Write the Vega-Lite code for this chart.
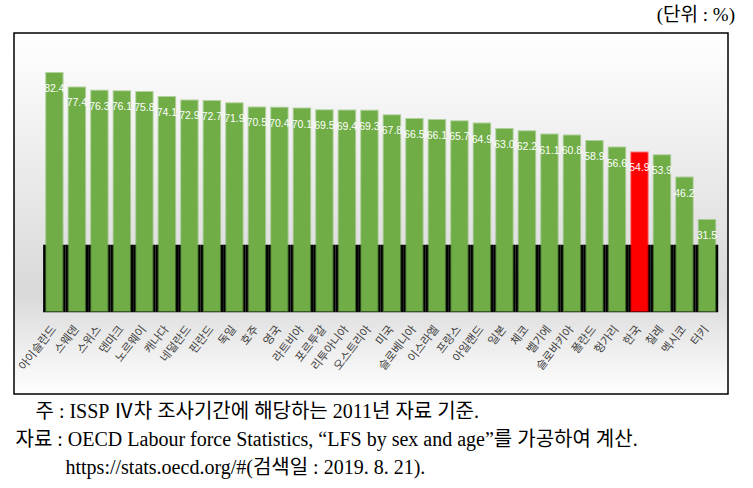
{
  "$schema": "https://vega.github.io/schema/vega-lite/v6.json",
  "width": 714,
  "height": 361,
  "autosize": "none",
  "padding": {"left": 14, "top": 33, "right": 25, "bottom": 94},
  "background": "#ffffff",
  "config": {
    "view": {
      "stroke": "#000000",
      "strokeWidth": 1.5,
      "fill": {
        "gradient": "linear",
        "x1": 0, "y1": 0, "x2": 0, "y2": 1,
        "stops": [
          {"offset": 0, "color": "#ffffff"},
          {"offset": 0.72, "color": "#d9d9d9"},
          {"offset": 1, "color": "#ffffff"}
        ]
      }
    }
  },
  "title": {
    "text": "(단위 : %)",
    "orient": "top",
    "anchor": "end",
    "frame": "group",
    "offset": 8,
    "dx": 7,
    "font": "Liberation Serif, Noto Sans CJK KR",
    "fontSize": 19,
    "fontWeight": "normal",
    "color": "#000000"
  },
  "data": {
    "values": [
      {"country": "아이슬란드", "value": 82.4},
      {"country": "스웨덴", "value": 77.4},
      {"country": "스위스", "value": 76.3},
      {"country": "덴마크", "value": 76.1},
      {"country": "노르웨이", "value": 75.8},
      {"country": "캐나다", "value": 74.1},
      {"country": "네덜란드", "value": 72.9},
      {"country": "핀란드", "value": 72.7},
      {"country": "독일", "value": 71.9},
      {"country": "호주", "value": 70.5},
      {"country": "영국", "value": 70.4},
      {"country": "라트비아", "value": 70.1},
      {"country": "포르투갈", "value": 69.5},
      {"country": "리투아니아", "value": 69.4},
      {"country": "오스트리아", "value": 69.3},
      {"country": "미국", "value": 67.8},
      {"country": "슬로베니아", "value": 66.5},
      {"country": "이스라엘", "value": 66.1},
      {"country": "프랑스", "value": 65.7},
      {"country": "아일랜드", "value": 64.9},
      {"country": "일본", "value": 63.0},
      {"country": "체코", "value": 62.2},
      {"country": "벨기에", "value": 61.1},
      {"country": "슬로바키아", "value": 60.8},
      {"country": "폴란드", "value": 58.9},
      {"country": "헝가리", "value": 56.6},
      {"country": "한국", "value": 54.9},
      {"country": "칠레", "value": 53.9},
      {"country": "멕시코", "value": 46.2},
      {"country": "터키", "value": 31.5}
    ]
  },
  "encoding": {
    "x": {
      "field": "country",
      "type": "nominal",
      "sort": null,
      "scale": {"paddingInner": 0.271, "paddingOuter": 1.095, "align": 0.715},
      "axis": {
        "orient": "bottom",
        "offset": -82,
        "domain": false,
        "ticks": false,
        "labelAngle": -52,
        "labelAlign": "right",
        "labelBaseline": "middle",
        "labelPadding": 15,
        "labelFont": "Noto Sans CJK KR",
        "labelFontSize": 11.5,
        "labelColor": "#404040",
        "title": [
          "\u200b\u3000주 : ISSP Ⅳ차 조사기간에 해당하는 2011년 자료 기준.",
          "자료 : OECD Labour force Statistics, “LFS by sex and age”를 가공하여 계산.",
          "\u200b\u3000\u3000\u2002https://stats.oecd.org/#(검색일 : 2019. 8. 21)."
        ],
        "titleX": 1,
        "titleY": 89,
        "titleAlign": "left",
        "titleAnchor": "start",
        "titleBaseline": "top",
        "titleLineHeight": 28,
        "titleFont": "Liberation Serif, Noto Sans CJK KR",
        "titleFontSize": 20,
        "titleFontWeight": "normal",
        "titleColor": "#000000"
      }
    }
  },
  "layer": [
    {
      "mark": {"type": "bar", "color": "#000000", "width": {"band": 1.372}},
      "encoding": {
        "y": {"datum": 22.9, "type": "quantitative", "scale": {"domain": [-28.74, 96.26], "nice": false, "zero": false}, "axis": null},
        "y2": {"datum": -0.4}
      }
    },
    {
      "mark": {"type": "bar", "strokeWidth": 2, "strokeOpacity": 0.5},
      "encoding": {
        "y": {"field": "value", "type": "quantitative"},
        "color": {
          "condition": {"test": "datum.country === '한국'", "value": "#ff0000"},
          "value": "#70ad47"
        },
        "stroke": {
          "condition": {"test": "datum.country === '한국'", "value": "#ff0000"},
          "value": "#70ad47"
        }
      }
    },
    {
      "mark": {"type": "text", "baseline": "middle", "align": "center", "dy": 16, "color": "#ffffff", "font": "Liberation Sans", "fontSize": 10.5},
      "encoding": {
        "y": {"field": "value", "type": "quantitative"},
        "text": {"field": "value", "type": "quantitative", "format": ".1f"}
      }
    }
  ]
}
